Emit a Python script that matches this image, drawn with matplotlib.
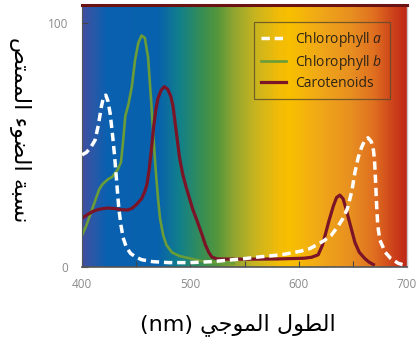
import numpy as np
import matplotlib
matplotlib.use("Agg")
import matplotlib.pyplot as plt
from matplotlib.colors import LinearSegmentedColormap

# ---------------- data ----------------
chl_a_nm = [400, 404, 408, 412, 415, 418, 420, 422, 424, 426, 428, 430, 432, 434, 436, 438, 441,
            445, 450, 455, 465, 480, 500, 520, 547, 565, 584, 602, 610, 618, 624, 630, 636, 641,
            645, 649, 652, 655, 658, 661, 664, 667, 669, 670, 671, 672, 673, 675, 680, 685, 692, 700]
chl_a_val = [46, 47, 49, 52, 58, 66, 70, 70.5, 68, 63, 55, 46, 35, 24, 17, 12, 8,
             5.5, 4, 3, 2.2, 1.8, 1.8, 2.2, 3.3, 4.2, 5, 6.5, 7.5, 9.4, 11, 13, 16.5, 20,
             24, 31, 39, 45, 49, 52, 53, 51.5, 48, 44, 35, 25, 17, 11, 6, 3.5, 1.5, 0.5]

chl_b_nm = [400, 404, 408, 412, 416, 419, 424, 428, 433, 436, 438, 440, 443, 446, 449, 452, 455,
            458, 461, 464, 466, 468, 470, 472, 475, 478, 483, 490, 500, 510, 520, 540]
chl_b_val = [13, 17, 22, 27, 32, 34, 36, 37, 40, 43, 52, 62, 67, 74, 85, 92, 95,
             94, 86, 67, 53, 40, 29, 20, 13, 9, 6, 4.5, 3.5, 2.5, 2, 1.5]

car_nm = [400, 405, 410, 415, 420, 424, 430, 436, 442, 446, 450, 455, 458, 460, 462, 464, 466,
          468, 470, 473, 476, 479, 482, 484, 486, 488, 490, 493, 496, 502, 507, 511, 514, 517,
          520, 525, 550, 580, 605, 612, 618, 622, 625, 628, 632, 635, 638, 641, 643, 646, 649,
          652, 656, 661, 665, 669]
car_val = [20, 21.5, 22.8, 23.6, 24, 24.2, 24, 23.5, 23.4, 24, 25.5, 28, 31, 34, 40, 48, 57,
           64, 69, 72.5, 74, 73, 70, 66, 59, 52, 45, 38, 33, 24, 18, 13, 9, 6,
           4, 3.3, 3.2, 3.3, 3.6, 4, 5, 9, 14, 19, 25, 28.5, 29.5, 28, 25, 20, 15,
           10, 6, 3.5, 2, 1]

series_labels = ["Chlorophyll $a$", "Chlorophyll $b$", "Carotenoids"]
x_ticks = [400, 500, 600, 700]
x_minor_ticks = [450, 550, 650]
y_ticks = [0, 100]
y_tick_labels = ["0", "100"]
ylabel_text = "نسبة الضوء الممتص"
xlabel_text = "الطول الموجي"
xlabel_unit = "(nm)"

# spectrum background colour stops (wavelength, colour)
spec_nm = [400, 410, 422, 470, 490, 512, 525, 540, 560, 582, 592, 620, 648, 670, 685, 700]
spec_col = ['#3f4fa0', '#2a58a8', '#0a60b0', '#0862ac', '#12808a', '#3a8f50', '#55963c',
            '#90a530', '#c8b420', '#f2bc08', '#f8c000', '#f0a818', '#e89020', '#e07020',
            '#d04a1c', '#c02818']

# ---------------- simple Arabic shaping (presentation forms) ----------------
FORMS = {
    'ء': (0xFE80,),
    'ا': (0xFE8D, 0xFE8E),
    'ب': (0xFE8F, 0xFE90, 0xFE91, 0xFE92),
    'ة': (0xFE93, 0xFE94),
    'ت': (0xFE95, 0xFE96, 0xFE97, 0xFE98),
    'ج': (0xFE9D, 0xFE9E, 0xFE9F, 0xFEA0),
    'س': (0xFEB1, 0xFEB2, 0xFEB3, 0xFEB4),
    'ص': (0xFEB9, 0xFEBA, 0xFEBB, 0xFEBC),
    'ض': (0xFEBD, 0xFEBE, 0xFEBF, 0xFEC0),
    'ط': (0xFEC1, 0xFEC2, 0xFEC3, 0xFEC4),
    'ل': (0xFEDD, 0xFEDE, 0xFEDF, 0xFEE0),
    'م': (0xFEE1, 0xFEE2, 0xFEE3, 0xFEE4),
    'ن': (0xFEE5, 0xFEE6, 0xFEE7, 0xFEE8),
    'و': (0xFEED, 0xFEEE),
    'ي': (0xFEF1, 0xFEF2, 0xFEF3, 0xFEF4),
}


def shape_arabic(s):
    out = []
    n = len(s)
    for i, c in enumerate(s):
        if c not in FORMS:
            out.append(c)
            continue
        f = FORMS[c]
        prev = s[i - 1] if i > 0 else None
        nxt = s[i + 1] if i + 1 < n else None
        jp = prev in FORMS and len(FORMS[prev]) == 4 and len(f) >= 2
        jn = nxt in FORMS and len(f) == 4 and len(FORMS[nxt]) >= 2
        if jp and jn:
            out.append(chr(f[3]))
        elif jp:
            out.append(chr(f[1]))
        elif jn:
            out.append(chr(f[2]))
        else:
            out.append(chr(f[0]))
    return ''.join(out)[::-1]


# ---------------- figure ----------------
plt.rcParams['font.family'] = ['Open Sans', 'DejaVu Sans']
plt.rcParams['mathtext.fontset'] = 'custom'
plt.rcParams['mathtext.rm'] = 'Open Sans'
plt.rcParams['mathtext.it'] = 'Open Sans:italic'

fig = plt.figure(figsize=(4.16, 3.45), dpi=100)
ax = fig.add_axes([82 / 416, 1 - 267 / 345, 325 / 416, 262 / 345])
xmin, xmax, ymin, ymax = 400, 700, 0, 107.5

cmap = LinearSegmentedColormap.from_list(
    'spec', [((w - spec_nm[0]) / (spec_nm[-1] - spec_nm[0]), c) for w, c in zip(spec_nm, spec_col)])
grad = np.linspace(0, 1, 600)[None, :]
ax.imshow(grad, cmap=cmap, aspect='auto', extent=[xmin, xmax, ymin, ymax], zorder=0,
          interpolation='bilinear')

ax.plot(chl_a_nm, chl_a_val, color='white', lw=2.5, dashes=(2.4, 1.4), label=series_labels[0], zorder=3)
ax.plot(chl_b_nm, chl_b_val, color='#6a9c38', lw=1.9, label=series_labels[1], zorder=2)
ax.plot(car_nm, car_val, color='#7a1426', lw=2.3, label=series_labels[2], zorder=2)

ax.set_xlim(xmin, xmax)
ax.set_ylim(ymin, ymax)
ax.set_xticks(x_ticks)
ax.set_xticks(x_minor_ticks, minor=True)
ax.set_yticks(y_ticks)
ax.set_yticklabels(y_tick_labels)
ax.tick_params(axis='both', which='both', direction='in', length=4, width=0.8, color='#444444',
               labelcolor='#8a8a8a', labelsize=8.5)
ax.tick_params(axis='x', pad=8)
ax.tick_params(axis='y', pad=10)

ax.spines['left'].set_color('#555555')
ax.spines['bottom'].set_color('#555555')
ax.spines['bottom'].set_linewidth(1.2)
ax.spines['top'].set_color('#6b1212')
ax.spines['top'].set_linewidth(2.2)
ax.spines['right'].set_color('#c8c8c8')
ax.spines['right'].set_linewidth(1.0)

leg = ax.legend(loc='upper right', bbox_to_anchor=(0.948, 0.935), frameon=True, fancybox=False,
                facecolor='none', edgecolor='#5a4a2a', fontsize=10, handlelength=1.8,
                handletextpad=0.65, labelspacing=0.3, borderpad=0.55, borderaxespad=0,
                labelcolor='#2d2416')
leg.get_frame().set_linewidth(0.9)

fig.text(20 / 416, 1 - 130 / 345, shape_arabic(ylabel_text), rotation=270, ha='center', va='center',
         fontsize=16, family='DejaVu Sans', color='black')
fig.text(238 / 416, 1 - 325 / 345, xlabel_unit + ' ' + shape_arabic(xlabel_text), ha='center',
         va='center', fontsize=16, family='DejaVu Sans', color='black')

fig.savefig('out.png', dpi=100)
